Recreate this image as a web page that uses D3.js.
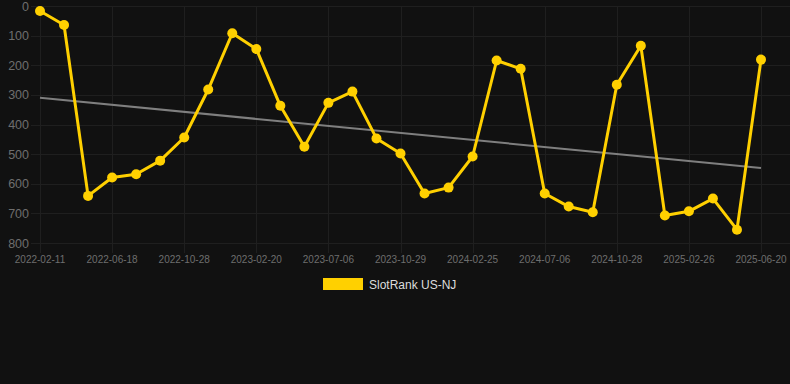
<!DOCTYPE html>
<html><head><meta charset="utf-8">
<script src="https://cdn.jsdelivr.net/npm/d3@7"></script>
<style>
html,body{margin:0;padding:0;background:#111111;}
svg{display:block;}
</style></head>
<body>
<svg id="c" width="790" height="384"></svg>
<script>
const dates = ["2022-02-11","2022-03-25","2022-05-06","2022-06-18","2022-07-31","2022-09-14","2022-10-28","2022-12-06","2023-01-13","2023-02-20","2023-04-05","2023-05-21","2023-07-06","2023-08-13","2023-09-21","2023-10-29","2023-12-08","2024-01-17","2024-02-25","2024-04-10","2024-05-24","2024-07-06","2024-08-13","2024-09-20","2024-10-28","2024-12-08","2025-01-17","2025-02-26","2025-04-03","2025-05-12","2025-06-20"];
const ranks = [17,64,641,579,568,522,444,282,92,145,337,475,327,289,447,498,633,613,508,184,212,633,677,696,266,134,707,693,650,755,181];
const tickLabels = ["2022-02-11","2022-06-18","2022-10-28","2023-02-20","2023-07-06","2023-10-29","2024-02-25","2024-07-06","2024-10-28","2025-02-26","2025-06-20"];
const yTicks = [0,100,200,300,400,500,600,700,800];
const trend = [310,547];
const seriesName = "SlotRank US-NJ";

const svg = d3.select("#c");
const pLeft = 40, pRight = 761, pTop = 6, pBottom = 243;
const x = d3.scalePoint().domain(dates).range([pLeft, pRight]);
const y = d3.scaleLinear().domain([0, 800]).range([pTop, pBottom]);
const gridC = "#1f1f1f";

// horizontal grid
svg.append("g").selectAll("line").data(yTicks).join("line")
  .attr("x1", 31).attr("x2", 790)
  .attr("y1", d => Math.round(y(d)) + 0.5).attr("y2", d => Math.round(y(d)) + 0.5)
  .attr("stroke", gridC).attr("stroke-width", 1);
// vertical grid
svg.append("g").selectAll("line").data(tickLabels).join("line")
  .attr("x1", d => Math.round(x(d)) + 0.5).attr("x2", d => Math.round(x(d)) + 0.5)
  .attr("y1", pTop).attr("y2", pBottom + 10)
  .attr("stroke", gridC).attr("stroke-width", 1);

// y labels
svg.append("g").selectAll("text").data(yTicks).join("text")
  .attr("x", 29).attr("y", d => y(d)).attr("dy", "0.36em")
  .attr("text-anchor", "end").attr("fill", "#6e6e6e")
  .style("font", "12.5px 'Liberation Sans', Arial, sans-serif")
  .text(d => d);
// x labels
svg.append("g").selectAll("text").data(tickLabels).join("text")
  .attr("x", d => x(d)).attr("y", 263)
  .attr("text-anchor", "middle").attr("fill", "#6e6e6e")
  .style("font", "10px 'Liberation Sans', Arial, sans-serif")
  .text(d => d);

// trend line
svg.append("line")
  .attr("x1", x(dates[0])).attr("x2", x(dates[dates.length - 1]))
  .attr("y1", y(trend[0])).attr("y2", y(trend[1]))
  .attr("stroke", "#7f7f7f").attr("stroke-width", 2);

// series
const line = d3.line().x((d, i) => x(dates[i])).y(d => y(d));
svg.append("path").datum(ranks).attr("d", line)
  .attr("fill", "none").attr("stroke", "#FFD000").attr("stroke-width", 3)
  .attr("stroke-linejoin", "round");
svg.append("g").selectAll("circle").data(ranks).join("circle")
  .attr("cx", (d, i) => x(dates[i])).attr("cy", d => y(d)).attr("r", 5)
  .attr("fill", "#FFD000");

// legend
svg.append("rect").attr("x", 323).attr("y", 278).attr("width", 40).attr("height", 12)
  .attr("fill", "#FFD000");
svg.append("text").attr("x", 369).attr("y", 288.5).attr("fill", "#dddddd")
  .style("font", "12px 'Liberation Sans', Arial, sans-serif")
  .text(seriesName);
</script>
</body></html>
